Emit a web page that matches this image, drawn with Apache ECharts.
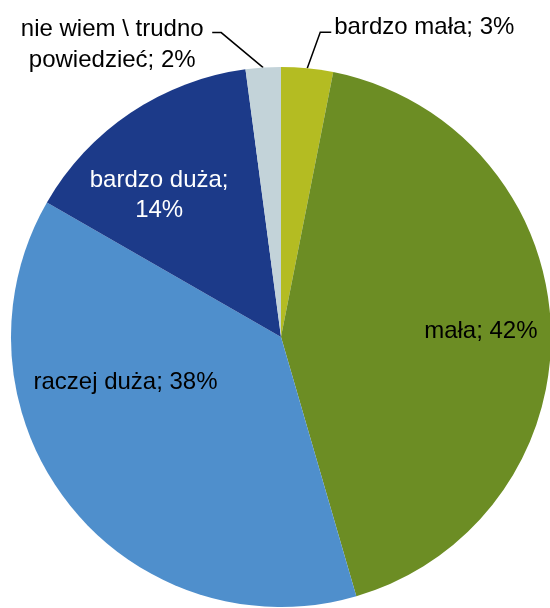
<!DOCTYPE html>
<html><head><meta charset="utf-8">
<script src="https://cdn.jsdelivr.net/npm/echarts@6/dist/echarts.min.js"></script>
<style>html,body{margin:0;padding:0;background:#fff}#c{width:550px;height:608px}</style>
</head><body><div id="c"></div>
<script>
var categories = ['bardzo mała', 'mała', 'raczej duża', 'bardzo duża', 'nie wiem \\ trudno\npowiedzieć'];
var values = [3.1, 42.4, 37.8, 14.6, 2.1];
var shownPct = [3, 42, 38, 14, 2];
var colors = ['#b4bc22', '#6c8d24', '#4f8fcc', '#1c3a89', '#c3d3d9'];

var FONT = '"Liberation Sans Narrow", "Arial Narrow", "Liberation Sans", Arial, sans-serif';
var chart = echarts.init(document.getElementById('c'), null, {renderer: 'canvas'});

var data = categories.map(function (c, i) {
  var item = {name: c, value: values[i], itemStyle: {color: colors[i]}};
  if (i === 0 || i === 4) {
    item.label = {position: 'outside', color: '#000', lineHeight: 31, align: i === 4 ? 'center' : 'left'};
    item.labelLine = {show: true, length: 36, length2: 11, lineStyle: {color: '#000', width: 1.5}};
  } else {
    item.label = {position: 'inside', color: i === 3 ? '#fff' : '#000', lineHeight: 30};
    item.labelLine = {show: false};
  }
  return item;
});

chart.setOption({
  animation: false,
  series: [{
    type: 'pie',
    center: [281, 337],
    radius: [0, 270],
    startAngle: 90,
    clockwise: true,
    avoidLabelOverlap: false,
    data: data,
    label: {
      fontFamily: FONT,
      fontSize: 24,
      formatter: function (p) {
        var i = p.dataIndex;
        if (i === 3) return 'bardzo duża;\n' + shownPct[i] + '%';
        return p.name + '; ' + shownPct[i] + '%';
      }
    },
    labelLayout: function (p) {
      var i = p.dataIndex;
      var pts = p.labelLinePoints;
      if (i === 0 && pts) {
        var s = pts[0];
        var m = [s[0] + 13, s[1] - 36];
        var e = [m[0] + 11, m[1]];
        return {x: e[0] + 3, y: e[1] - 5, align: 'left', verticalAlign: 'middle', labelLinePoints: [s, m, e]};
      }
      if (i === 4 && pts) {
        var s2 = pts[0];
        var m2 = [s2[0] - 42, s2[1] - 35];
        var e2 = [m2[0] - 9, m2[1]];
        return {x: e2[0] - 100, y: e2[1] - 19, align: 'center', verticalAlign: 'top', labelLinePoints: [s2, m2, e2]};
      }
      if (i === 1) return {dx: 62, dy: 0};
      if (i === 2) return {dx: -47, dy: -40};
      if (i === 3) return {dx: -45, dy: -27};
      return {};
    }
  }]
});
</script></body></html>
